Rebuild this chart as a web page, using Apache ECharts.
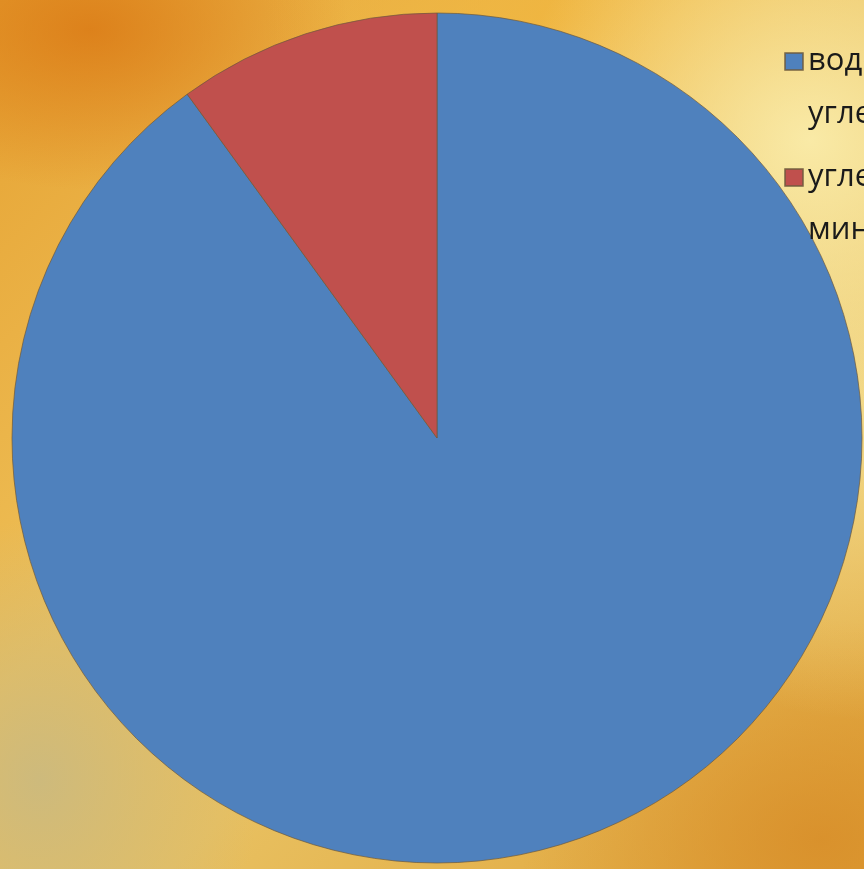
<!DOCTYPE html>
<html>
<head>
<meta charset="utf-8">
<script src="https://cdn.jsdelivr.net/npm/echarts@6/dist/echarts.min.js"></script>
<style>
html,body{margin:0;padding:0;width:864px;height:869px;overflow:hidden;}
body{
  background:
    radial-gradient(ellipse 260px 160px at 90px 30px, rgba(218,120,20,0.8), rgba(218,120,20,0) 100%),
    radial-gradient(ellipse 300px 280px at 810px 140px, rgba(250,236,170,0.95), rgba(250,236,170,0) 100%),
    radial-gradient(ellipse 240px 300px at 850px 420px, rgba(246,226,150,0.8), rgba(246,226,150,0) 100%),
    radial-gradient(ellipse 220px 260px at 40px 780px, rgba(200,185,130,0.85), rgba(200,185,130,0) 100%),
    radial-gradient(ellipse 300px 220px at 820px 840px, rgba(215,140,40,0.8), rgba(215,140,40,0) 100%),
    radial-gradient(ellipse 300px 200px at 560px 20px, rgba(240,180,60,0.8), rgba(240,180,60,0) 100%),
    linear-gradient(135deg, #e6a232 0%, #eec058 40%, #e8c060 60%, #e0a43a 100%);
}
#chart{width:864px;height:869px;}
</style>
</head>
<body>
<div id="chart"></div>
<script>
var categories = ['водорастворимые\nуглеводы', 'углеводы\nминеральные вещества'];
var values = [90, 10];
var colors = ['#4f81bd', '#c0504d'];

var chart = echarts.init(document.getElementById('chart'), null, {renderer: 'canvas'});
var data = categories.map(function (c, i) {
  return {name: c, value: values[i], itemStyle: {color: colors[i]}};
});
function legendFor(name, top) {
  return {
    data: [name],
    orient: 'vertical',
    left: 784,
    top: top,
    padding: 0,
    icon: 'rect',
    itemWidth: 18,
    itemHeight: 17,
    selectedMode: false,
    formatter: function (n) { return '\n' + n; },
    textStyle: {
      fontFamily: 'Open Sans',
      fontSize: 31,
      color: '#1a1a1a',
      lineHeight: 53
    }
  };
}
chart.setOption({
  backgroundColor: 'transparent',
  animation: false,
  legend: [legendFor(categories[0], -18), legendFor(categories[1], 98)],
  series: [{
    type: 'pie',
    center: [437, 438],
    radius: 425,
    startAngle: 90,
    clockwise: true,
    label: {show: false},
    labelLine: {show: false},
    emphasis: {disabled: true},
    itemStyle: {borderColor: 'rgba(110,90,60,0.7)', borderWidth: 1},
    data: data
  }]
});
</script>
</body>
</html>
